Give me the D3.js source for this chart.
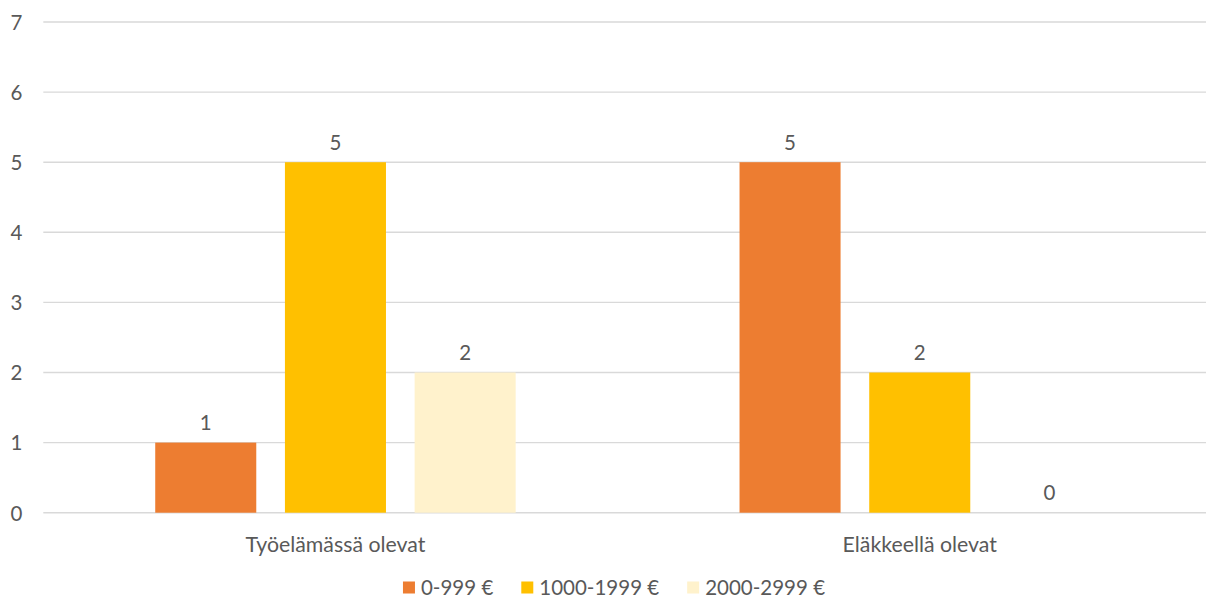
<!DOCTYPE html>
<html>
<head>
<meta charset="utf-8">
<script src="https://cdn.jsdelivr.net/npm/d3@7"></script>
<style>
  html, body { margin: 0; padding: 0; background: #ffffff; }
  svg { display: block; }
  text { font-family: Lato, "Open Sans", sans-serif; fill: #595959; }
</style>
</head>
<body>
<svg id="chart" width="1206" height="599"></svg>
<script>
// Income groups by respondent status
const categories = ["Työelämässä olevat", "Eläkkeellä olevat"];
const seriesNames = ["0-999 €", "1000-1999 €", "2000-2999 €"];
const seriesColors = ["#ED7D31", "#FFC000", "#FFF2CC"];
const values0to999 = [1, 5];
const values1000to1999 = [5, 2];
const values2000to2999 = [2, 0];
const yTicks = [0, 1, 2, 3, 4, 5, 6, 7];

const seriesValues = [values0to999, values1000to1999, values2000to2999];
const rows = categories.map((c, i) => ({
  category: c,
  items: seriesNames.map((s, j) => ({ series: s, value: seriesValues[j][i], color: seriesColors[j] }))
}));

const svg = d3.select("#chart");
const FONT = 20.5;

const plot = { left: 43.3, right: 1211.9, top: 22, bottom: 512.7 };

const y = d3.scaleLinear().domain([0, 7]).range([plot.bottom, plot.top]);
const x0 = d3.scaleBand().domain(categories).range([plot.left, plot.right]).padding(0);
const x1 = d3.scaleBand().domain(seriesNames).range([0, x0.bandwidth()])
  .paddingInner(0.221).paddingOuter(0.863);

// gridlines
svg.append("g").selectAll("line").data(yTicks).join("line")
  .attr("x1", plot.left).attr("x2", plot.right)
  .attr("y1", d => y(d)).attr("y2", d => y(d))
  .attr("stroke", "#d9d9d9").attr("stroke-width", 1.4);

// y axis labels
const yAxis = d3.axisLeft(y).tickValues(yTicks).tickSize(0).tickPadding(0).tickFormat(d3.format("d"));
const gy = svg.append("g").attr("transform", `translate(${22.5},0)`).call(yAxis);
gy.select(".domain").remove();
gy.selectAll("text").attr("font-size", FONT).attr("font-family", null).attr("fill", "#595959")
  .attr("dy", "0.36em");

// bars
const groups = svg.append("g").selectAll("g").data(rows).join("g")
  .attr("transform", d => `translate(${x0(d.category)},0)`);

groups.selectAll("rect").data(d => d.items).join("rect")
  .attr("x", d => x1(d.series))
  .attr("width", x1.bandwidth())
  .attr("y", d => y(d.value))
  .attr("height", d => y(0) - y(d.value))
  .attr("fill", d => d.color);

// value labels
groups.selectAll("text.val").data(d => d.items).join("text")
  .attr("class", "val")
  .attr("x", d => x1(d.series) + x1.bandwidth() / 2)
  .attr("y", d => y(d.value) - 12.5)
  .attr("text-anchor", "middle")
  .attr("font-size", FONT)
  .text(d => d.value);

// category labels
const xAxis = d3.axisBottom(x0).tickSize(0).tickPadding(0);
const gx = svg.append("g").attr("transform", `translate(0,${551.5})`).call(xAxis);
gx.select(".domain").remove();
gx.selectAll("text").attr("font-size", 21.3).attr("font-family", null).attr("fill", "#595959")
  .attr("dy", 0).attr("y", 0);

// legend
const legend = svg.append("g");
const items = legend.selectAll("g").data(seriesNames).join("g");
items.append("rect").attr("width", 12).attr("height", 12).attr("y", 581.5)
  .attr("fill", (d, i) => seriesColors[i]);
items.append("text").attr("x", 18).attr("y", 595).attr("font-size", FONT).text(d => d);
const widths = [];
items.each(function () { widths.push(18 + this.querySelector("text").getComputedTextLength()); });
const gap = 28;
const total = d3.sum(widths) + gap * (widths.length - 1);
let cx = 614 - total / 2;
items.each(function (d, i) {
  d3.select(this).attr("transform", `translate(${cx},0)`);
  cx += widths[i] + gap;
});
</script>
</body>
</html>
